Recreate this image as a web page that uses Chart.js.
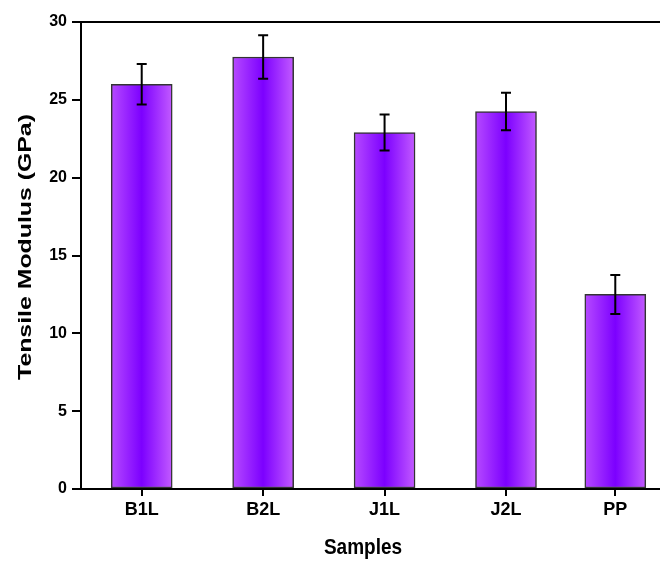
<!DOCTYPE html>
<html>
<head>
<meta charset="utf-8">
<script src="https://cdn.jsdelivr.net/npm/chart.js@4.4.0/dist/chart.umd.min.js"></script>
<style>
  body { margin: 0; background: #fff; overflow: hidden; }
  #wrap { width: 660px; height: 563px; overflow: hidden; }
</style>
</head>
<body>
<div id="wrap"><canvas id="chart" width="690" height="563"></canvas></div>
<script>
// data
const samples = ['B1L', 'B2L', 'J1L', 'J2L', 'PP'];
const positions = [1, 2, 3, 4, 4.9];
const modulus = [26.0, 27.75, 22.9, 24.25, 12.5];
const errors = [1.3, 1.4, 1.15, 1.2, 1.25];
const yTicks = [0, 5, 10, 15, 20, 25, 30];
const yTitle = 'Tensile Modulus (GPa)';
const xTitle = 'Samples';

const sans = "'Liberation Sans', Arial, sans-serif";
const barW = 61;

// purple bar with lighter edges
function barFill(ctx) {
    const chart = ctx.chart;
    const xs = chart.scales.x;
    if (!xs || !ctx.raw) return '#8a10ff';
    const cx = xs.getPixelForValue(ctx.raw.x);
    if (!isFinite(cx)) return '#8a10ff';
    const g = chart.ctx.createLinearGradient(cx - barW / 2, 0, cx + barW / 2, 0);
    g.addColorStop(0, '#b64aff');
    g.addColorStop(0.5, '#7c00ff');
    g.addColorStop(1, '#c25aff');
    return g;
}

const errorBars = {
    id: 'errorBars',
    afterDatasetsDraw(chart) {
        const c = chart.ctx;
        const xs = chart.scales.x, ys = chart.scales.y;
        c.save();
        c.strokeStyle = '#000';
        c.lineWidth = 2;
        modulus.forEach((v, i) => {
            const x = xs.getPixelForValue(positions[i]);
            const top = ys.getPixelForValue(v + errors[i]);
            const bot = ys.getPixelForValue(v - errors[i]);
            c.beginPath();
            c.moveTo(x, top); c.lineTo(x, bot);
            c.moveTo(x - 5, top); c.lineTo(x + 5, top);
            c.moveTo(x - 5, bot); c.lineTo(x + 5, bot);
            c.stroke();
        });
        c.restore();
    }
};

// top frame line + axis titles (stretched like the original)
const frameAndTitles = {
    id: 'frameAndTitles',
    afterDraw(chart) {
        const a = chart.chartArea, c = chart.ctx;
        c.save();
        c.strokeStyle = '#000';
        c.lineWidth = 2;
        c.beginPath();
        c.moveTo(a.left - 1, a.top);
        c.lineTo(a.right + 10, a.top);
        c.stroke();
        c.fillStyle = '#000';
        c.textAlign = 'center';
        c.textBaseline = 'middle';
        c.font = 'bold 19px ' + sans;
        c.save();
        c.translate(363, 548);
        c.scale(1, 1.12);
        c.fillText(xTitle, 0, 0);
        c.restore();
        c.translate(26, 247);
        c.rotate(-Math.PI / 2);
        c.scale(1.38, 1);
        c.font = 'bold 18px ' + sans;
        c.fillText(yTitle, 0, 0);
        c.restore();
    }
};

const chart = new Chart(document.getElementById('chart'), {
    type: 'bar',
    data: {
        datasets: [{
            data: positions.map((p, i) => ({ x: p, y: modulus[i] })),
            backgroundColor: barFill,
            borderColor: '#333',
            borderWidth: 1.5,
            borderSkipped: false,
            barThickness: barW
        }]
    },
    options: {
        responsive: false,
        animation: false,
        layout: { padding: { top: 22, right: 14, left: 0, bottom: 0 } },
        plugins: { legend: { display: false }, tooltip: { enabled: false } },
        scales: {
            x: {
                type: 'linear',
                offset: false,
                min: 0.5,
                max: 5.4,
                afterBuildTicks: s => { s.ticks = positions.map(v => ({ value: v })); },
                afterFit: s => { s.height = 74; },
                ticks: {
                    autoSkip: false,
                    maxRotation: 0,
                    padding: 3,
                    color: '#000',
                    font: { family: sans, size: 18, weight: 'bold' },
                    callback: v => samples[positions.indexOf(v)]
                },
                grid: { offset: false, drawOnChartArea: false, tickLength: 7, color: '#000', lineWidth: 2 },
                border: { display: true, color: '#000', width: 2 }
            },
            y: {
                min: 0,
                max: 30,
                afterBuildTicks: s => { s.ticks = yTicks.map(v => ({ value: v })); },
                afterFit: s => { s.width = 81; },
                ticks: {
                    padding: 5,
                    color: '#000',
                    font: { family: sans, size: 16, weight: 'bold' }
                },
                grid: { drawOnChartArea: false, tickLength: 9, color: '#000', lineWidth: 2 },
                border: { display: true, color: '#000', width: 2 }
            }
        }
    },
    plugins: [errorBars, frameAndTitles]
});
chart.update();
</script>
</body>
</html>
